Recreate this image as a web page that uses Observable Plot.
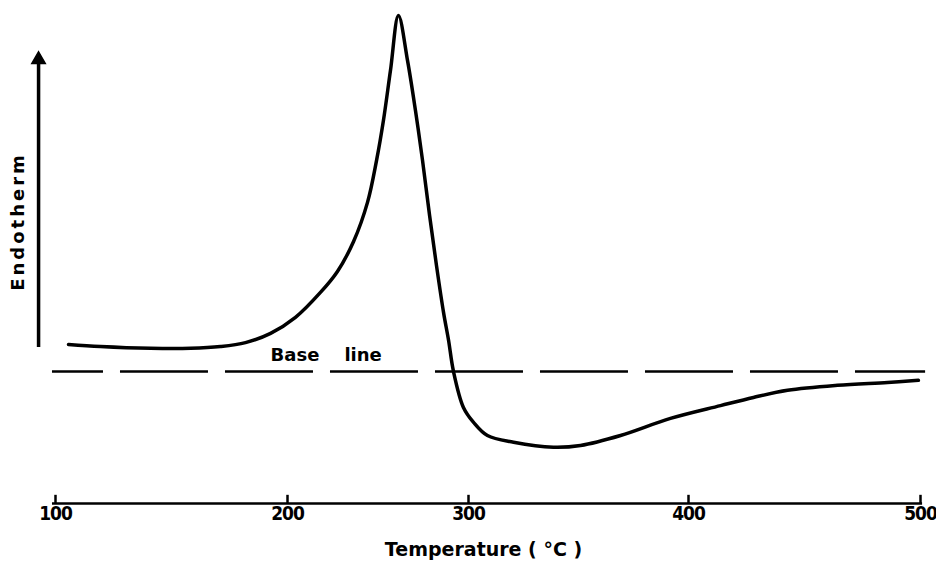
<!DOCTYPE html>
<html>
<head>
<meta charset="utf-8">
<script src="https://cdn.jsdelivr.net/npm/d3@7"></script>
<script src="https://cdn.jsdelivr.net/npm/@observablehq/plot@0.6"></script>
<style>
  html, body { margin: 0; padding: 0; background: #fff; }
</style>
</head>
<body>
<div id="chart"></div>
<script>
// DTA curve: temperature (°C) vs. differential signal (arbitrary units, baseline = 0, endotherm up)
const temperature = [105.6, 119.4, 140.9, 158.2, 171.1, 181.9, 192.7, 204.4, 218.2, 227.6,
  236.5, 244.2, 249.2, 253.0, 256.9, 261.3, 266.3, 270.7, 274.6, 278.5,
  282.3, 286.2, 289.0, 291.7, 297.2, 302.3, 308.6, 320.5, 338.6, 350.9,
  369.1, 391.8, 413.8, 428.0, 442.7, 464.2, 485.8, 499.1];
const signal = [7.6, 7.0, 6.5, 6.5, 7.0, 8.1, 10.7, 15.2, 22.2, 28.1,
  36.5, 47.5, 59.3, 70.5, 84.6, 100, 87.4, 73.3, 59.3, 43.8,
  29.8, 16.6, 8.7, 0, -10.1, -14.3, -18.0, -19.9, -21.3, -20.8,
  -18.0, -13.2, -9.6, -7.3, -5.3, -3.9, -3.1, -2.5];

const xTicks = [100, 200, 300, 400, 500];
const xTickLabels = ["100", "200", "300", "400", "500"];
const xTitle = "Temperature ( °C )";
const yTitle = "Endotherm";
const baselineLabel = "Base\u00a0\u00a0\u00a0\u00a0line";

// axis / annotation anchors (data units)
const xAxisLevel = -37.1;
const axisStartT = 98.7, axisEndT = 500.9;
const tickLen = 2.3;
const yAxisT = 92.7, yAxisBottom = 6.7, yAxisTop = 86.5, yArrowTip = 87.6;
const baselineStartT = 98.7, baselineEndT = 502.2;
const baselineLabelT = 192.7, baselineLabelV = 4.5;

const curveData = temperature.map((t, i) => ({t, v: signal[i]}));
const font = "'DejaVu Sans', sans-serif";

const chart = Plot.plot({
  width: 936,
  height: 562,
  marginLeft: 38,
  marginRight: 8,
  marginTop: 15,
  marginBottom: 59,
  style: {fontFamily: font, background: "#fff", color: "#000"},
  x: {type: "linear", domain: xTicks, range: [55, 287, 468, 688, 920], axis: null},
  y: {domain: [xAxisLevel, 100], range: [503, 15], axis: null},
  marks: [
    // baseline (dashed)
    Plot.ruleY([0], {x1: baselineStartT, x2: baselineEndT, stroke: "#000", strokeWidth: 2.5,
      strokeDasharray: "88,17", strokeDashoffset: 37}),
    Plot.text([baselineLabel], {x: baselineLabelT, y: baselineLabelV, textAnchor: "start",
      fontSize: 18, fontWeight: "bold", fill: "#000"}),
    // x axis line, ticks and labels
    Plot.ruleY([xAxisLevel], {x1: axisStartT, x2: axisEndT, stroke: "#000", strokeWidth: 2.5}),
    Plot.ruleX(xTicks, {x: d => d, y1: xAxisLevel, y2: xAxisLevel + tickLen, stroke: "#000", strokeWidth: 2.5}),
    Plot.axisX({anchor: "bottom", ticks: xTicks, tickSize: 0, tickPadding: 3,
      tickFormat: d => xTickLabels[xTicks.indexOf(d)], label: null,
      fontSize: 19, fontWeight: "bold", fill: "#000"}),
    Plot.text([xTitle], {frameAnchor: "bottom", dy: 52, fontSize: 19, fontWeight: "bold", fill: "#000"}),
    // y axis with arrow
    Plot.ruleX([yAxisT], {x: d => d, y1: yAxisBottom, y2: yAxisTop, stroke: "#000", strokeWidth: 3.5}),
    Plot.dot([yAxisT], {x: d => d, y: yArrowTip, symbol: "triangle", r: 5, fill: "#000", stroke: "#000"}),
    Plot.text([yTitle], {frameAnchor: "left", textAnchor: "middle", rotate: -90, dx: -20, dy: -38,
      fontSize: 18, fontWeight: "bold", fill: "#000"}),
    // DTA curve
    Plot.line(curveData, {x: "t", y: "v", curve: "catmull-rom", stroke: "#000", strokeWidth: 3.5,
      strokeLinejoin: "round", strokeLinecap: "round"})
  ]
});

chart.querySelectorAll("text").forEach(t => {
  const s = t.textContent;
  if (s === yTitle) t.setAttribute("letter-spacing", "3px");
  if (xTickLabels.includes(s)) {
    t.style.fontStretch = "condensed";
    t.setAttribute("letter-spacing", "-1px");
  }
});
document.getElementById("chart").appendChild(chart);
</script>
</body>
</html>
